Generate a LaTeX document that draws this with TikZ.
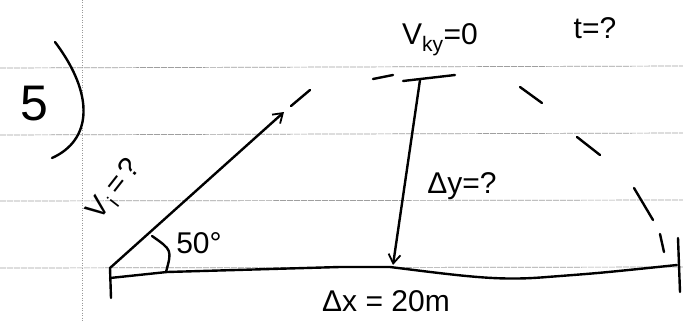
\documentclass[tikz,border=0pt]{standalone}
\usepackage{fontspec}
\setmainfont{Liberation Sans}
\usetikzlibrary{arrows.meta}
\begin{document}
\begin{tikzpicture}[x=1pt,y=-1pt,
  ruled/.style={gray!75,line width=0.7pt,dash pattern=on 6pt off 1pt},
  margin/.style={gray!80,line width=0.5pt,dotted},
  ink/.style={black,line width=2.4pt,line cap=round,line join=round},
  hand/.style={inner sep=0pt,font=\fontsize{30}{30}\selectfont},
  tip/.style={-{Straight Barb[length=9pt,width=12pt,line width=1.8pt]}}]
\useasboundingbox (0,0) rectangle (683,321);
\fill[white] (0,0) rectangle (683,321);
% ruled paper
\draw[ruled] (0,68) -- (683,66);
\draw[ruled] (0,135) -- (683,133);
\draw[ruled] (0,201) -- (683,200);
\draw[ruled] (0,268) -- (683,267);
\draw[margin] (82,0) -- (82,321);
% problem number
\node[hand,font=\fontsize{50}{50}\selectfont] (num) at (34,104) {5};
\draw[ink] (55,42) .. controls (95,95) and (92,140) .. (52,158);
% ground
\coordinate (O) at (110,268);
\coordinate (gA) at (167,272);
\coordinate (gB) at (390,267);
\coordinate (gC) at (547,277);
\coordinate (E) at (677,265);
\draw[ink] (110,278) -- (gA) -- (340,267) -- (gB) .. controls (470,277) and (500,281) .. (gC) .. controls (600,273) .. (E);
\draw[ink] (O) -- (111,298);
\draw[ink] (678,238) -- (680,292);
\draw[ink] (660,234) -- (664,252);
% launch velocity
\coordinate (V) at (284,112);
\draw[ink,tip] (O) -- (V);
\draw[ink] (291,106) -- (310,90);
\node[hand,rotate=52,font=\fontsize{29}{29}\selectfont] (vi) at (115,190) {V\hspace{2pt}\textsubscript{i}\hspace{5pt}=\hspace{4pt}?};
% angle
\draw[ink] (152,236) .. controls (172,250) .. (166,272);
\node[hand] (ang) at (199,243) {50°};
% trajectory
\draw[ink] (520,87) -- (542,103);
\draw[ink] (577,137) -- (600,155);
\draw[ink] (634,188) -- (653,220);
% max height
\coordinate (T) at (420,80);
\coordinate (B) at (393,265);
\draw[ink] (403,81) -- (455,75);
\draw[ink] (373,79) -- (393,75);
\draw[ink,tip] (T) -- (B);
\node[hand] (vky) at (440,40) {V\textsubscript{ky}=0};
\node[hand] (tq) at (595,28) {t=?};
\node[hand] (dy) at (462,186) {Δy=?};
\node[hand] (dx) at (386,301) {Δx = 20m};
\end{tikzpicture}
\end{document}
